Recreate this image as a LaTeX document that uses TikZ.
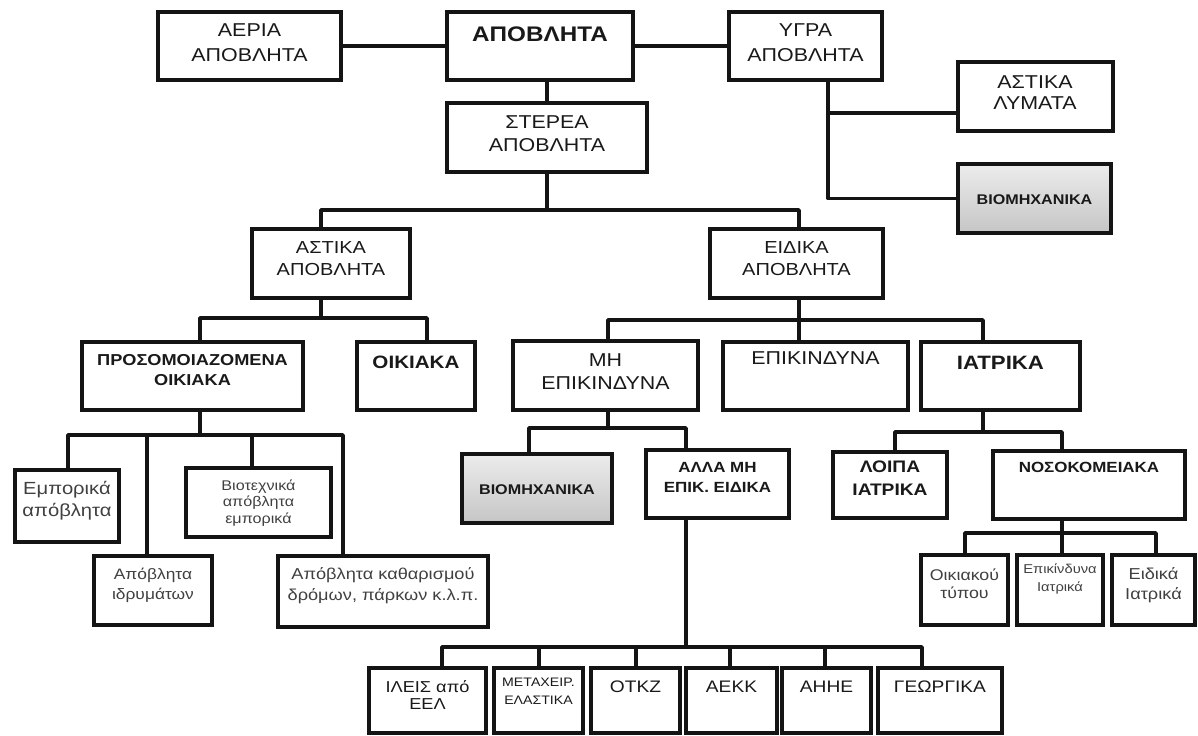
\documentclass[tikz,border=0pt]{standalone}
\usepackage{fontspec}
\setmainfont{Liberation Sans}[FakeStretch=1.15]
\usetikzlibrary{fit,calc}
\newcommand\myfs[2]{\fontsize{#1}{#2}\selectfont}
\begin{document}
\begin{tikzpicture}[x=0.02cm,y=-0.02cm,
  box/.style={draw=black!92, line width=2pt, inner sep=0pt},
  gbox/.style={box, top color=gray!15, bottom color=gray!45},
  conn/.style={draw=black!92, line width=2pt, line join=round},
  tx/.style={align=center, inner sep=0pt, text=black!90},
  sm/.style={align=center, inner sep=0pt, text=black!75}]
\useasboundingbox (0,0) rectangle (1198,736);

% ---------- boxes ----------
\node[box, fit={(158,12)(341,80)}] (aeria) {};
\node[box, fit={(447,12)(633,80)}] (apov) {};
\node[box, fit={(729,12)(882,80)}] (ygra) {};
\node[box, fit={(447,103)(647,172)}] (stere) {};
\node[box, fit={(958,62)(1113,131)}] (alym) {};
\node[gbox, fit={(958,164)(1111,233)}] (biomA) {};
\node[box, fit={(252,229)(410,298)}] (astika) {};
\node[box, fit={(710,229)(883,298)}] (eidika) {};
\node[box, fit={(82,342)(303,410)}] (prosom) {};
\node[box, fit={(357,342)(475,410)}] (oikiaka) {};
\node[box, fit={(513,341)(698,410)}] (mhep) {};
\node[box, fit={(723,342)(908,410)}] (epik) {};
\node[box, fit={(921,342)(1080,410)}] (iatr) {};
\node[gbox, fit={(462,454)(612,523)}] (biomB) {};
\node[box, fit={(646,450)(789,518)}] (alla) {};
\node[box, fit={(833,452)(947,518)}] (loipa) {};
\node[box, fit={(993,451)(1185,519)}] (nosok) {};
\node[box, fit={(15,470)(119,542)}] (empor) {};
\node[box, fit={(186,468)(331,537)}] (viot) {};
\node[box, fit={(94,556)(212,625)}] (idr) {};
\node[box, fit={(278,556)(488,627)}] (kath) {};
\node[box, fit={(921,555)(1008,625)}] (oikt) {};
\node[box, fit={(1017,555)(1103,625)}] (epiat) {};
\node[box, fit={(1112,555)(1195,625)}] (eidiat) {};
\node[box, fit={(369,668)(486,733)}] (ileis) {};
\node[box, fit={(494,668)(583,733)}] (metax) {};
\node[box, fit={(591,668)(680,733)}] (otkz) {};
\node[box, fit={(686,668)(777,733)}] (aekk) {};
\node[box, fit={(782,668)(871,733)}] (ahhe) {};
\node[box, fit={(878,668)(1002,733)}] (georg) {};

% ---------- texts ----------
\node[tx, font=\myfs{10.6}{14}] (aeria-t) at (249.5,42.5) {ΑΕΡΙΑ\\ΑΠΟΒΛΗΤΑ};
\node[tx, font=\bfseries\myfs{12}{14}] (apov-t) at (540,34) {ΑΠΟΒΛΗΤΑ};
\node[tx, font=\myfs{10.6}{14}] (ygra-t) at (805.5,42.5) {ΥΓΡΑ\\ΑΠΟΒΛΗΤΑ};
\node[tx, font=\myfs{10.6}{13}] (stere-t) at (547,133.5) {ΣΤΕΡΕΑ\\ΑΠΟΒΛΗΤΑ};
\node[tx, font=\myfs{10.6}{12}] (alym-t) at (1035,92.5) {ΑΣΤΙΚΑ\\ΛΥΜΑΤΑ};
\node[tx, font=\bfseries\myfs{8}{10}] (biomA-t) at (1034.5,200) {ΒΙΟΜΗΧΑΝΙΚΑ};
\node[tx, font=\myfs{9.9}{12.5}] (astika-t) at (331,259) {ΑΣΤΙΚΑ\\ΑΠΟΒΛΗΤΑ};
\node[tx, font=\myfs{9.9}{12.5}] (eidika-t) at (796.5,259) {ΕΙΔΙΚΑ\\ΑΠΟΒΛΗΤΑ};
\node[tx, font=\bfseries\myfs{9}{11.3}] (prosom-t) at (192.5,370) {ΠΡΟΣΟΜΟΙΑΖΟΜΕΝΑ\\ΟΙΚΙΑΚΑ};
\node[tx, font=\bfseries\myfs{10.2}{12}] (oikiaka-t) at (416,362) {ΟΙΚΙΑΚΑ};
\node[tx, font=\myfs{10.6}{13}] (mhep-t) at (605.5,371.5) {ΜΗ\\ΕΠΙΚΙΝΔΥΝΑ};
\node[tx, font=\myfs{10.6}{13}] (epik-t) at (815.5,358) {ΕΠΙΚΙΝΔΥΝΑ};
\node[tx, font=\bfseries\myfs{11}{13}] (iatr-t) at (1000.5,363) {ΙΑΤΡΙΚΑ};
\node[tx, font=\bfseries\myfs{8}{10}] (biomB-t) at (537,490) {ΒΙΟΜΗΧΑΝΙΚΑ};
\node[tx, font=\bfseries\myfs{8.4}{11.3}] (alla-t) at (717.5,477) {ΑΛΛΑ ΜΗ\\ΕΠΙΚ. ΕΙΔΙΚΑ};
\node[tx, font=\bfseries\myfs{9.5}{13}] (loipa-t) at (890,478.5) {ΛΟΙΠΑ\\ΙΑΤΡΙΚΑ};
\node[tx, font=\bfseries\myfs{8.4}{10}] (nosok-t) at (1089,467) {ΝΟΣΟΚΟΜΕΙΑΚΑ};
\node[sm, font=\myfs{10}{12.5}] (empor-t) at (67,501) {Εμπορικά\\απόβλητα};
\node[sm, font=\myfs{8}{9.4}] (viot-t) at (258.5,503) {Βιοτεχνικά\\απόβλητα\\εμπορικά};
\node[sm, font=\myfs{8.6}{11.3}] (idr-t) at (153,585) {Απόβλητα\\ιδρυμάτων};
\node[sm, font=\myfs{9}{12}] (kath-t) at (383,585.5) {Απόβλητα καθαρισμού\\δρόμων, πάρκων κ.λ.π.};
\node[sm, font=\myfs{8.8}{10.2}] (oikt-t) at (964.5,584) {Οικιακού\\τύπου};
\node[sm, font=\myfs{7.3}{10}] (epiat-t) at (1060,579) {Επικίνδυνα\\Ιατρικά};
\node[sm, font=\myfs{9}{11.3}] (eidiat-t) at (1153.5,585) {Ειδικά\\Ιατρικά};
\node[tx, font=\myfs{9}{9.5}] (ileis-t) at (427.5,695) {ΙΛΕΙΣ από\\ΕΕΛ};
\node[tx, font=\myfs{7}{10}] (metax-t) at (538.5,691) {ΜΕΤΑΧΕΙΡ.\\ΕΛΑΣΤΙΚΑ};
\node[tx, font=\myfs{9.5}{11}] (otkz-t) at (635.5,687) {ΟΤΚΖ};
\node[tx, font=\myfs{9.5}{11}] (aekk-t) at (731.5,687) {ΑΕΚΚ};
\node[tx, font=\myfs{9.5}{11}] (ahhe-t) at (826.5,687) {ΑΗΗΕ};
\node[tx, font=\myfs{9.5}{11}] (georg-t) at (940,687) {ΓΕΩΡΓΙΚΑ};

% ---------- bus coordinates ----------
\coordinate (yx) at (828,113);
\coordinate (b1l) at (321,210);
\coordinate (b1r) at (799,210);
\coordinate (b2l) at (200,318);
\coordinate (b2m) at (321,318);
\coordinate (b2r) at (427,318);
\coordinate (b3l) at (608,320);
\coordinate (b3m) at (799,320);
\coordinate (b3r) at (983,320);
\coordinate (b4l) at (529,428);
\coordinate (b4r) at (686,428);
\coordinate (b5a) at (442,647);
\coordinate (b5b) at (539,647);
\coordinate (b5c) at (636,647);
\coordinate (b5d) at (730,647);
\coordinate (b5e) at (825,647);
\coordinate (b5f) at (922,647);
\coordinate (b6l) at (895,432);
\coordinate (b6r) at (1062,432);
\coordinate (b7l) at (965,533);
\coordinate (b7m) at (1062,533);
\coordinate (b7r) at (1156,533);
\coordinate (b8a) at (68,435);
\coordinate (b8b) at (147,435);
\coordinate (b8c) at (252,435);
\coordinate (b8d) at (343,435);

% ---------- connectors ----------
\draw[conn] (aeria.east) -- (aeria.east -| apov.west);
\draw[conn] (apov.east) -- (apov.east -| ygra.west);
\draw[conn] (stere.north) -- (stere.north |- apov.south);
\draw[conn] (ygra.south -| yx) |- (biomA.west);
\draw[conn] (yx) -- (yx -| alym.west);

\draw[conn] (stere.south) -- (stere.south |- b1l);
\draw[conn] (astika.north -| b1l) -- (b1l) -- (b1r) -- (eidika.north -| b1r);

\draw[conn] (astika.south -| b2m) -- (b2m);
\draw[conn] (prosom.north -| b2l) -- (b2l) -- (b2r) -- (oikiaka.north -| b2r);

\draw[conn] (eidika.south -| b3m) -- (b3m);
\draw[conn] (mhep.north -| b3l) -- (b3l) -- (b3r) -- (iatr.north -| b3r);
\draw[conn] (b3m) -- (epik.north -| b3m);

\draw[conn] (mhep.south -| b3l) -- (b3l |- b4l);
\draw[conn] (biomB.north -| b4l) -- (b4l) -- (b4r) -- (alla.north -| b4r);

\draw[conn] (alla.south -| b4r) -- (b4r |- b5a);
\draw[conn] (ileis.north -| b5a) -- (b5a) -- (b5f) -- (georg.north -| b5f);
\draw[conn] (b5b) -- (metax.north -| b5b);
\draw[conn] (b5c) -- (otkz.north -| b5c);
\draw[conn] (b5d) -- (aekk.north -| b5d);
\draw[conn] (b5e) -- (ahhe.north -| b5e);

\draw[conn] (iatr.south -| b3r) -- (b3r |- b6l);
\draw[conn] (loipa.north -| b6l) -- (b6l) -- (b6r) -- (nosok.north -| b6r);

\draw[conn] (nosok.south -| b7m) -- (b7m);
\draw[conn] (oikt.north -| b7l) -- (b7l) -- (b7r) -- (eidiat.north -| b7r);
\draw[conn] (b7m) -- (epiat.north -| b7m);

\draw[conn] (prosom.south -| b2l) -- (b2l |- b8a);
\draw[conn] (empor.north -| b8a) -- (b8a) -- (b8d) -- (kath.north -| b8d);
\draw[conn] (b8b) -- (idr.north -| b8b);
\draw[conn] (b8c) -- (viot.north -| b8c);
\end{tikzpicture}
\end{document}
